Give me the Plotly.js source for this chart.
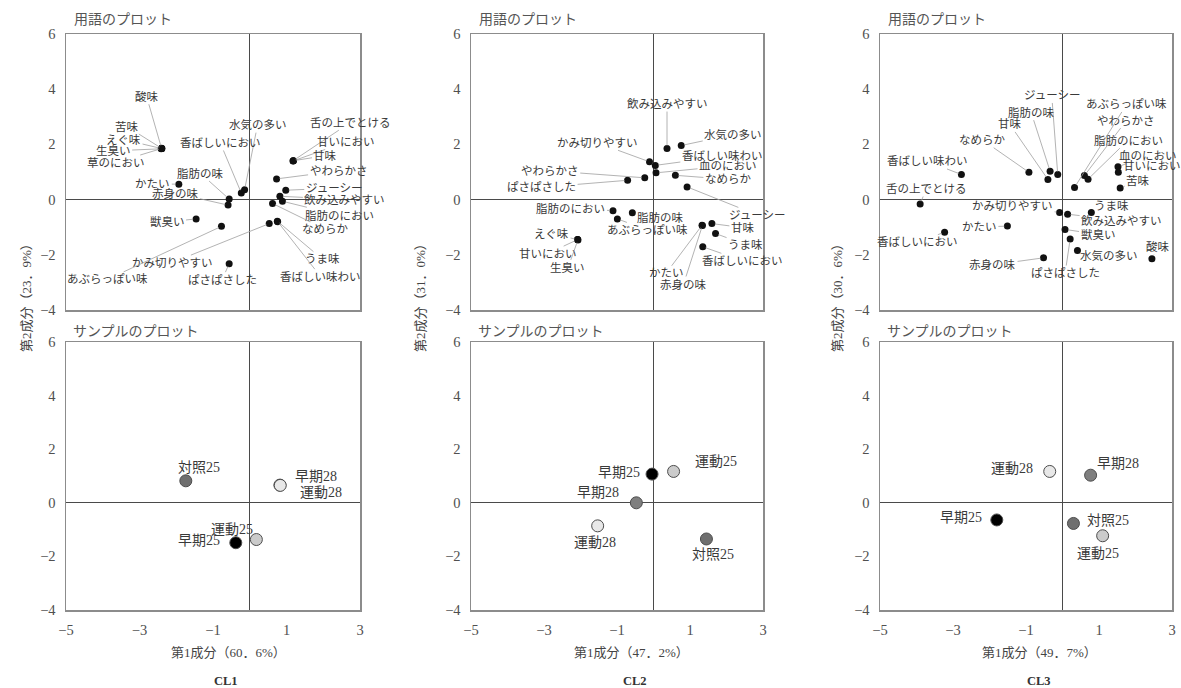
<!DOCTYPE html>
<html>
<head>
<meta charset="utf-8">
<script src="https://cdn.plot.ly/plotly-3.0.1.min.js"></script>
<style>
  html, body { margin: 0; padding: 0; background: #fff; }
  #chart { width: 1181px; height: 688px; }
</style>
</head>
<body>
<div id="chart"></div>
<script>
// ---- CL1: term loadings ----
const cl1Terms = ['酸味','苦味','えぐ味','生臭い','草のにおい','水気の多い','香ばしいにおい','舌の上でとける','甘いにおい','甘味','やわらかさ','ジューシー','飲み込みやすい','脂肪のにおい','なめらか','うま味','香ばしい味わい','脂肪の味','かたい','赤身の味','獣臭い','かみ切りやすい','あぶらっぽい味','ぱさぱさした'];
const cl1TermX = [-2.40,-2.39,-2.40,-2.41,-2.40,-0.14,-0.23,1.18,1.18,1.19,0.73,0.98,0.82,0.89,0.62,0.75,0.76,-0.56,-1.93,-0.59,-1.46,0.53,-0.77,-0.56];
const cl1TermY = [1.86,1.85,1.85,1.84,1.85,0.36,0.24,1.41,1.40,1.41,0.75,0.34,0.12,-0.06,-0.14,-0.78,-0.80,0.02,0.56,-0.20,-0.70,-0.87,-0.97,-2.32];

// ---- CL2: term loadings ----
const cl2Terms = ['飲み込みやすい','水気の多い','かみ切りやすい','香ばしい味わい','血のにおい','やわらかさ','ぱさぱさした','なめらか','ジューシー','脂肪のにおい','脂肪の味','あぶらっぽい味','えぐ味','甘いにおい','生臭い','甘味','うま味','かたい','赤身の味','香ばしいにおい'];
const cl2TermX = [0.37,0.76,-0.11,0.05,0.07,-0.24,-0.71,0.60,0.92,-1.11,-0.58,-0.99,-2.08,-2.08,-2.07,1.60,1.70,1.33,1.34,1.35];
const cl2TermY = [1.85,1.96,1.37,1.24,0.97,0.79,0.70,0.88,0.46,-0.40,-0.48,-0.70,-1.45,-1.45,-1.46,-0.87,-1.23,-0.93,-0.94,-1.71];

// ---- CL3: term loadings ----
const cl3Terms = ['香ばしい味わい','舌の上でとける','香ばしいにおい','かたい','赤身の味','ぱさぱさした','水気の多い','獣臭い','飲み込みやすい','かみ切りやすい','うま味','酸味','苦味','血のにおい','甘いにおい','脂肪のにおい','やわらかさ','あぶらっぽい味','ジューシー','脂肪の味','甘味','なめらか'];
const cl3TermX = [-2.77,-3.90,-3.23,-1.51,-0.52,0.21,0.41,0.07,0.14,-0.08,0.79,2.45,1.58,1.52,1.53,0.70,0.60,0.33,-0.13,-0.34,-0.40,-0.92];
const cl3TermY = [0.91,-0.16,-1.18,-0.96,-2.11,-1.43,-1.84,-1.08,-0.53,-0.47,-0.47,-2.14,0.42,1.19,0.99,0.74,0.87,0.44,0.91,1.03,0.73,0.99];

// ---- sample scores ----
const sampleNames = ['早期25','早期28','運動25','運動28','対照25'];
const cl1SampleX = [-0.38, 0.82, 0.18, 0.83, -1.74];
const cl1SampleY = [-1.49, 0.66, -1.37, 0.65, 0.82];
const cl2SampleX = [-0.04, -0.47, 0.55, -1.53, 1.45];
const cl2SampleY = [1.07, 0.00, 1.17, -0.86, -1.35];
const cl3SampleX = [-1.80, 0.77, 1.10, -0.35, 0.30];
const cl3SampleY = [-0.64, 1.03, -1.23, 1.17, -0.77];

// axis titles / panel names
const panelNames = ['CL1','CL2','CL3'];
const pc1Titles = ['第1成分（60．6%）','第1成分（47．2%）','第1成分（49．7%）'];
const pc2Titles = ['第2成分（23．9%）','第2成分（31．0%）','第2成分（30．6%）'];
const xTicks = [-5,-3,-1,1,3];
const yTicks = [-4,-2,0,2,4,6];

// ---- presentation: label placement offsets in pixels [dx, dy] ----
const cl1LabelOffsets = [[-15,-52],[-35,-22],[-38,-9],[-48,2],[-46,14],[13,-65],[-21,-50],[57,-38],[53,-19],[32,-5],[62,-8],[48,-2],[65,3],[57,14],[53,26],[45,38],[43,55],[-29,-26],[-26,0],[-53,-12],[-29,3],[-97,39],[-114,53],[-7,16]];
const cl2LabelOffsets = [[0,-45],[52,-11],[-52,-19],[67,-9],[72,-7],[-95,-7],[-86,7],[53,4],[70,28],[-42,-2],[28,5],[30,11],[-26,-6],[-30,14],[-10,28],[31,4],[30,11],[-36,48],[-19,59],[40,14]];
const cl3LabelOffsets = [[-34,-13],[6,-15],[-27,10],[-28,1],[-51,7],[-5,34],[32,5],[33,5],[54,6],[-47,-7],[20,-7],[6,-12],[18,-7],[30,-11],[34,-6],[40,-39],[42,-55],[52,-83],[-6,-79],[-19,-59],[-38,-55],[-46,-32]];
const cl1SampleOffsets = [[-37,-2],[36,-9],[-24,-10],[41,7],[13,-13]];
const cl2SampleOffsets = [[-33,-2],[-38,-10],[42,-10],[-3,17],[7,16]];
const cl3SampleOffsets = [[-36,-2],[27,-12],[-5,18],[-38,-3],[35,-3]];
const sampleColors = {'早期25':'#000000','早期28':'#7f7f7f','運動25':'#cbcbcb','運動28':'#e8e8e8','対照25':'#6f6f6f'};

const W = 1181, H = 688;
const FONT = '"Liberation Serif", "Noto Sans CJK JP", serif';
const colsX = [[66,360],[471,763],[880,1172]];
const topY = [34,310], botY = [342,610];
const xTitlePos = [[228,652],[631,652],[1039,652]];
const namePos = [[226,681],[635,681],[1039,681]];
const yTitlePos = [[26,295],[420,295],[837,295]];

const termSets = [
  [cl1Terms, cl1TermX, cl1TermY, cl1LabelOffsets],
  [cl2Terms, cl2TermX, cl2TermY, cl2LabelOffsets],
  [cl3Terms, cl3TermX, cl3TermY, cl3LabelOffsets]
];
const sampleSets = [
  [cl1SampleX, cl1SampleY, cl1SampleOffsets],
  [cl2SampleX, cl2SampleY, cl2SampleOffsets],
  [cl3SampleX, cl3SampleY, cl3SampleOffsets]
];

const traces = [];
const annotations = [];
const layout = {
  width: W, height: H,
  margin: {l: 0, r: 0, t: 0, b: 0},
  paper_bgcolor: '#ffffff', plot_bgcolor: '#ffffff',
  showlegend: false,
  font: {family: FONT, color: '#444'}
};

function axisBase() {
  return {
    showgrid: false,
    zeroline: true, zerolinecolor: '#4a4a4a', zerolinewidth: 1,
    showline: true, mirror: true, linecolor: '#8c8c8c', linewidth: 1.5,
    ticks: 'outside', ticklen: 6, tickcolor: 'rgba(0,0,0,0)',
    tickfont: {family: FONT, size: 14.5, color: '#505050'},
    fixedrange: true
  };
}

function paperText(text, px, py, opts) {
  return Object.assign({
    xref: 'paper', yref: 'paper', x: px / W, y: 1 - py / H,
    text: text, showarrow: false, xanchor: 'center', yanchor: 'middle',
    font: {family: FONT, size: 13, color: '#444'}
  }, opts || {});
}

for (let p = 0; p < 3; p++) {
  const ti = 2 * p + 1, bi = 2 * p + 2;
  const xd = [colsX[p][0] / W, colsX[p][1] / W];

  layout['xaxis' + ti] = Object.assign(axisBase(), {
    domain: xd, range: [-5, 3], anchor: 'y' + ti, tickvals: xTicks, showticklabels: false
  });
  layout['yaxis' + ti] = Object.assign(axisBase(), {
    domain: [1 - topY[1] / H, 1 - topY[0] / H], range: [-4, 6], anchor: 'x' + ti, tickvals: yTicks
  });
  layout['xaxis' + bi] = Object.assign(axisBase(), {
    domain: xd, range: [-5, 3], anchor: 'y' + bi, tickvals: xTicks
  });
  layout['yaxis' + bi] = Object.assign(axisBase(), {
    domain: [1 - botY[1] / H, 1 - botY[0] / H], range: [-4, 6], anchor: 'x' + bi, tickvals: yTicks
  });

  // term loadings
  const [names, xs, ys, offs] = termSets[p];
  traces.push({
    type: 'scatter', mode: 'markers', x: xs, y: ys, text: names,
    xaxis: 'x' + ti, yaxis: 'y' + ti, cliponaxis: false,
    marker: {size: 7, color: '#111', line: {width: 0}}
  });
  names.forEach((n, i) => {
    annotations.push({
      xref: 'x' + ti, yref: 'y' + ti, x: xs[i], y: ys[i], text: n,
      showarrow: true, arrowhead: 0, arrowwidth: 0.8, arrowcolor: '#a0a0a0',
      standoff: 3, ax: offs[i][0], ay: offs[i][1],
      font: {family: FONT, size: 11.5, color: '#3a3a3a'}
    });
  });

  // sample scores
  const [sx, sy, soffs] = sampleSets[p];
  traces.push({
    type: 'scatter', mode: 'markers', x: sx, y: sy, text: sampleNames,
    xaxis: 'x' + bi, yaxis: 'y' + bi, cliponaxis: false,
    marker: {size: 12, color: sampleNames.map(n => sampleColors[n]), line: {width: 1, color: '#4d4d4d'}}
  });
  sampleNames.forEach((n, i) => {
    annotations.push({
      xref: 'x' + bi, yref: 'y' + bi, x: sx[i], y: sy[i], text: n,
      showarrow: false, xshift: soffs[i][0], yshift: -soffs[i][1],
      font: {family: FONT, size: 14, color: '#3a3a3a'}
    });
  });

  // panel headings and titles
  annotations.push(paperText('用語のプロット', colsX[p][0] + 6, 19, {xanchor: 'left', font: {family: FONT, size: 14, color: '#555'}}));
  annotations.push(paperText('サンプルのプロット', colsX[p][0] + 5, 331, {xanchor: 'left', font: {family: FONT, size: 14, color: '#555'}}));
  annotations.push(paperText(pc1Titles[p], xTitlePos[p][0], xTitlePos[p][1], {font: {family: FONT, size: 13, color: '#444'}}));
  annotations.push(paperText(pc2Titles[p], yTitlePos[p][0], yTitlePos[p][1], {textangle: -90, font: {family: FONT, size: 13, color: '#444'}}));
  annotations.push(paperText('<b>' + panelNames[p] + '</b>', namePos[p][0], namePos[p][1], {font: {family: FONT, size: 12.5, color: '#333'}}));
}

layout.annotations = annotations;

Plotly.newPlot('chart', traces, layout, {staticPlot: true, displayModeBar: false});
</script>
</body>
</html>
